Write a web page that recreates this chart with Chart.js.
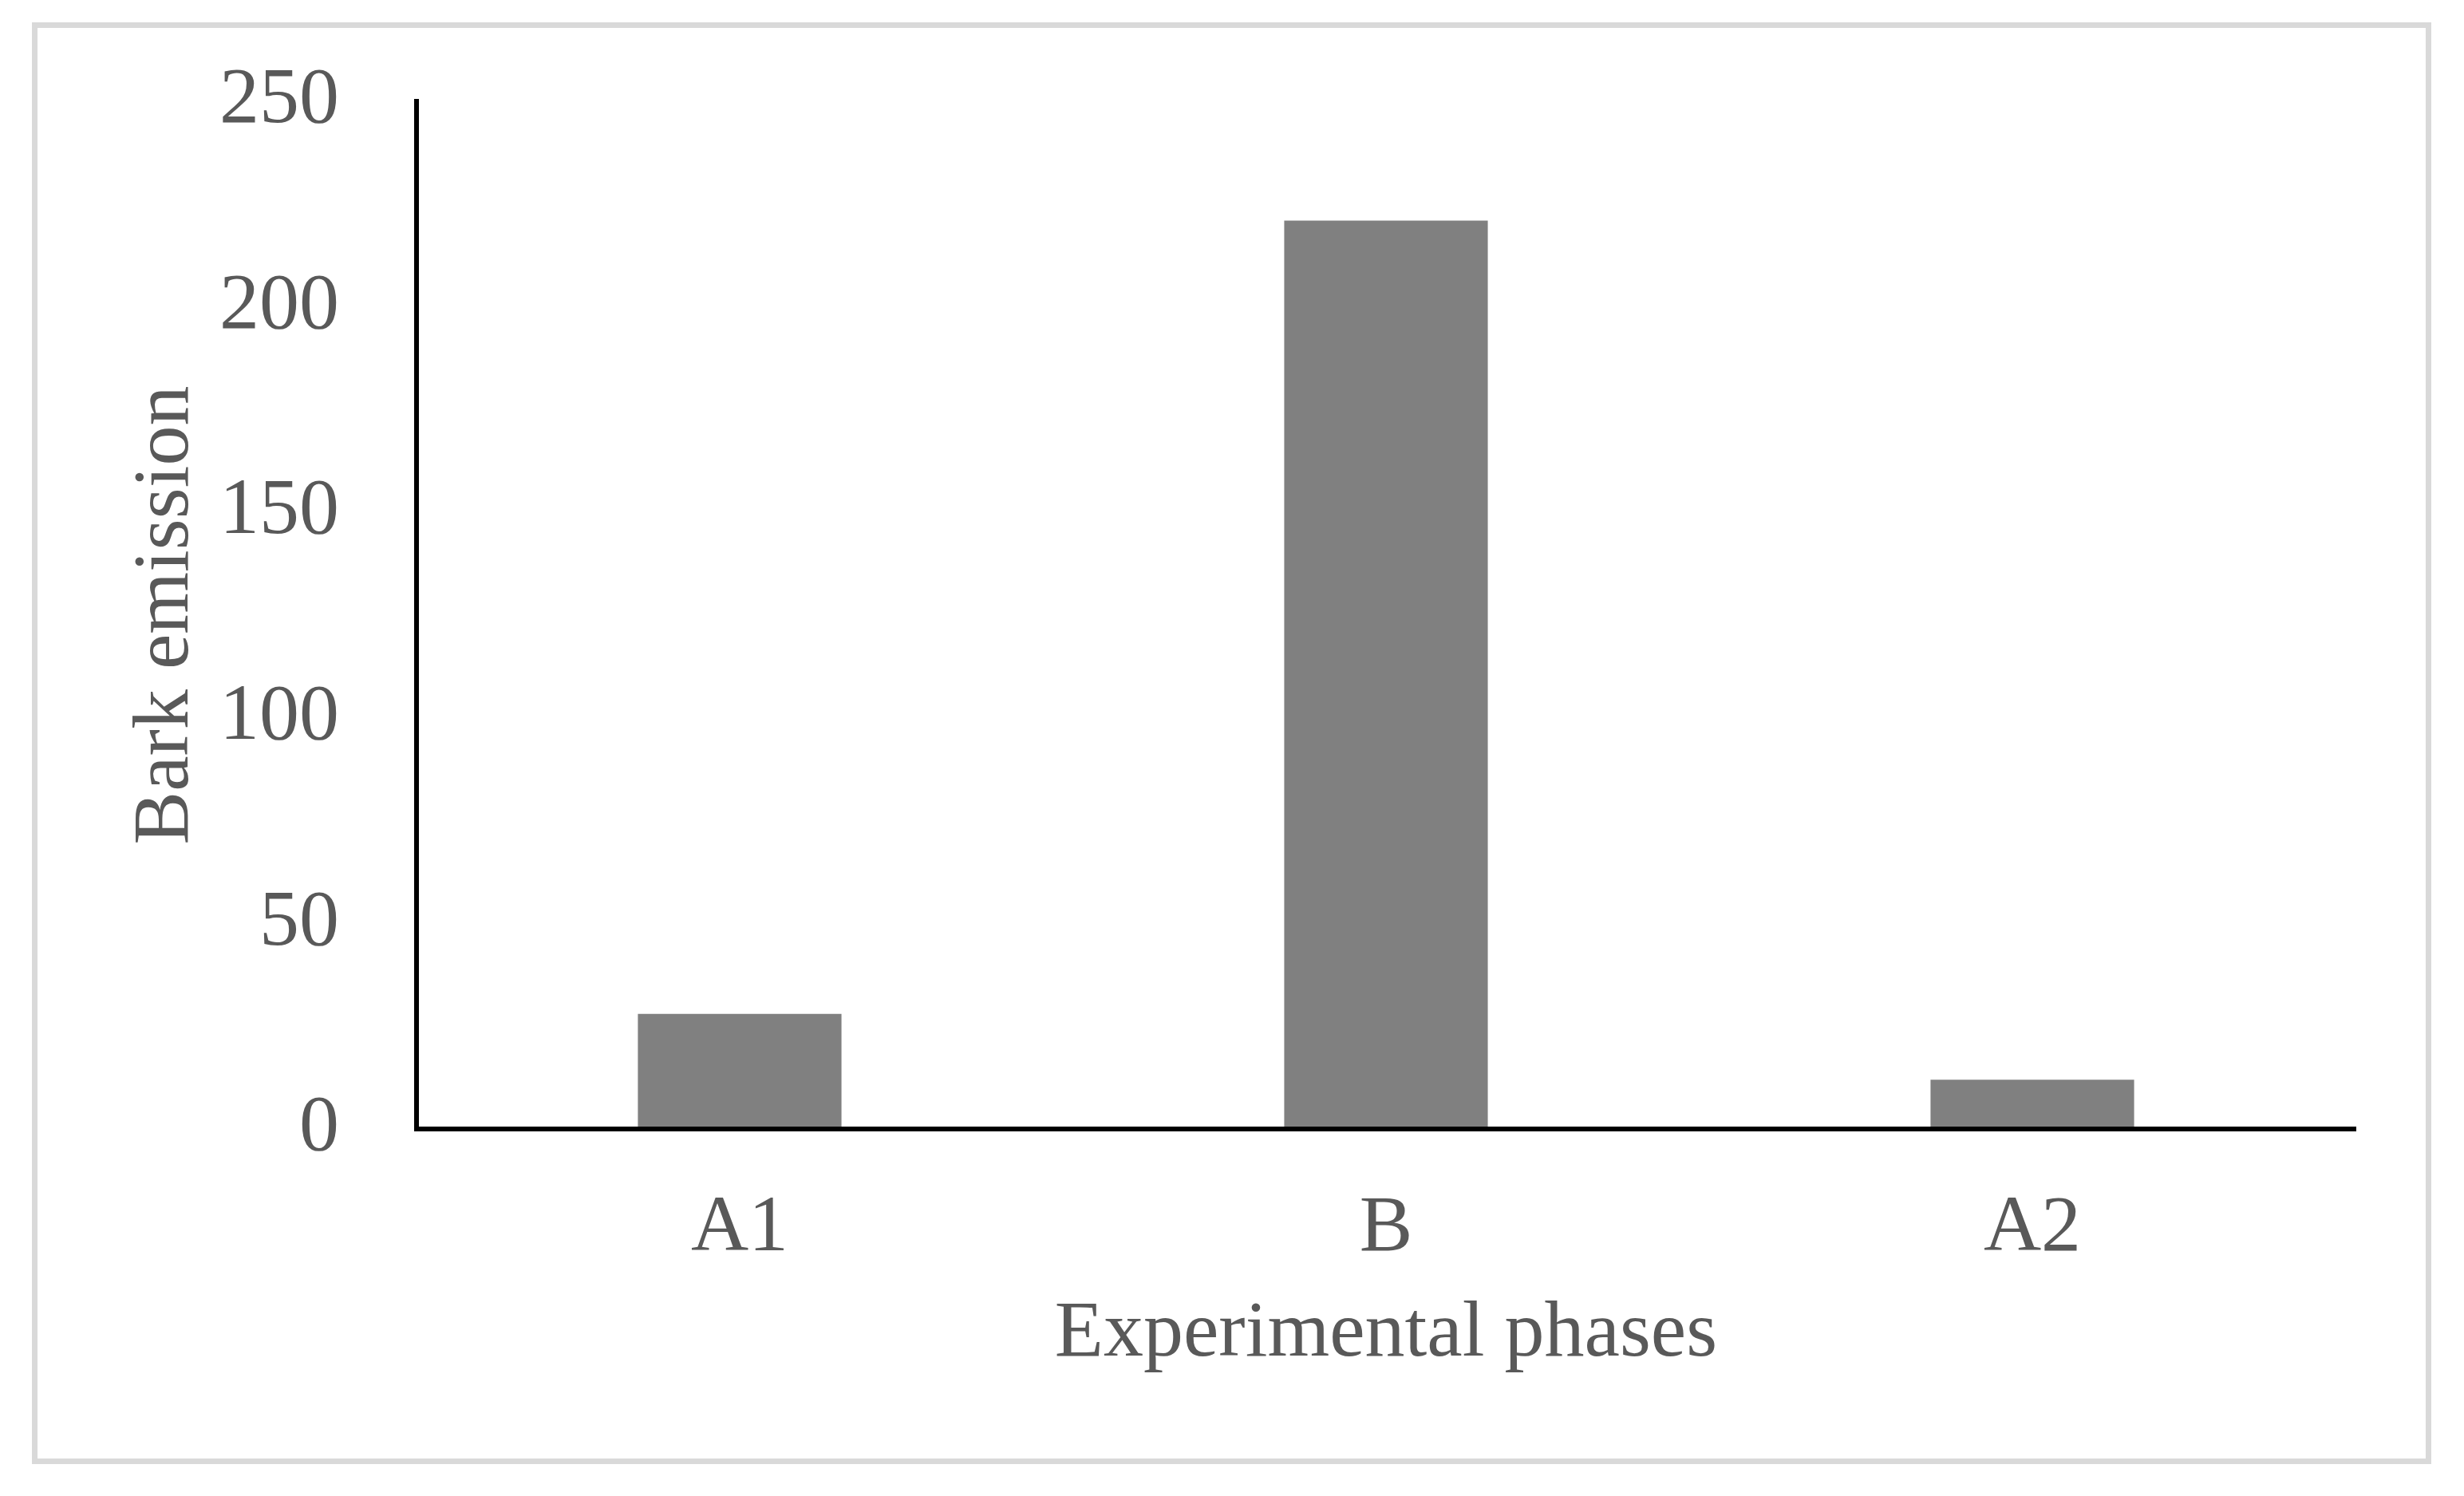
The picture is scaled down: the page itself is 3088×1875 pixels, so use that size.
<!DOCTYPE html>
<html>
<head>
<meta charset="utf-8">
<script src="https://cdn.jsdelivr.net/npm/chart.js@4/dist/chart.umd.min.js"></script>
<style>
  html, body { margin: 0; padding: 0; background: #fff; }
  #wrap { position: relative; width: 3088px; height: 1875px; }
  #frame {
    position: absolute; left: 40px; top: 28px; width: 3007px; height: 1807px;
    box-sizing: border-box; border: 7px solid #d9d9d9; pointer-events: none;
  }
  canvas { position: absolute; left: 0; top: 0; }
</style>
</head>
<body>
<div id="wrap">
  <canvas id="chart" width="3088" height="1875"></canvas>
  <div id="frame"></div>
</div>
<script>
// values
const phases = ['A1', 'B', 'A2'];
const barkEmission = [28, 221, 12];
const yTicks = [0, 50, 100, 150, 200, 250];

const TEXT = '#595959';
const FONT = 'Liberation Serif, Times New Roman, serif';

new Chart(document.getElementById('chart'), {
  type: 'bar',
  data: {
    labels: phases,
    datasets: [{
      data: barkEmission,
      backgroundColor: '#808080',
      borderWidth: 0,
      barPercentage: 0.315,
      categoryPercentage: 1,
    }],
  },
  options: {
    responsive: false,
    devicePixelRatio: 1,
    animation: false,
    layout: { padding: { top: 127, right: 136, left: 0, bottom: 0 } },
    plugins: { legend: { display: false }, tooltip: { enabled: false } },
    scales: {
      x: {
        grid: { display: false },
        border: { display: true, color: '#000', width: 6, z: 1 },
        ticks: { color: TEXT, padding: 58, font: { family: FONT, size: 100, lineHeight: 1.2 } },
        title: {
          display: true, text: 'Experimental phases', color: TEXT,
          font: { family: FONT, size: 100, lineHeight: 1.2 },
          padding: { top: 0, bottom: 142 },
        },
        afterFit: s => { s.height = 460; s.paddingLeft = 0; s.paddingRight = 0; },
      },
      y: {
        min: 0,
        max: yTicks[yTicks.length - 1],
        grid: { display: false },
        border: { display: true, color: '#000', width: 6, z: 1 },
        afterBuildTicks: s => { s.ticks = yTicks.map(v => ({ value: v })); },
        ticks: { color: TEXT, padding: 89, font: { family: FONT, size: 100, lineHeight: 1.2 } },
        title: {
          display: true, text: 'Bark emission', color: TEXT,
          font: { family: FONT, size: 100, lineHeight: 1.2 },
          padding: { top: 149, bottom: 0 },
        },
        afterFit: s => { s.width = 522; s.paddingTop = 0; s.paddingBottom = 0; },
      },
    },
  },
});
</script>
</body>
</html>
